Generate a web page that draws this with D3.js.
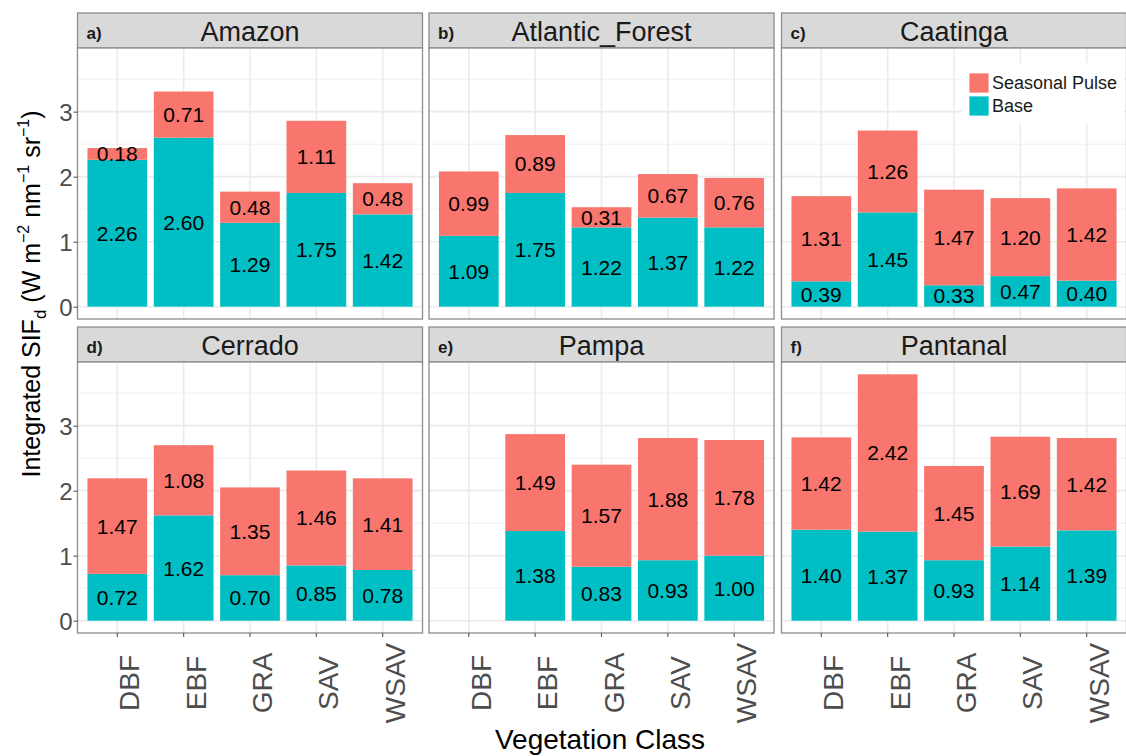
<!DOCTYPE html>
<html>
<head>
<meta charset="utf-8">
<script src="https://cdn.jsdelivr.net/npm/d3@7"></script>
<style>
  html, body { margin: 0; padding: 0; background: #fff; }
  svg text { font-family: "Liberation Sans", Arial, Helvetica, sans-serif; }
</style>
</head>
<body>
<svg id="chart" width="1126" height="756"></svg>
<script>
// Biomes (facets), in panel order
const biomes = ["Amazon", "Atlantic_Forest", "Caatinga", "Cerrado", "Pampa", "Pantanal"];
const panelTags = ["a)", "b)", "c)", "d)", "e)", "f)"];
// Vegetation classes on the x axis
const classes = ["DBF", "EBF", "GRA", "SAV", "WSAV"];
// Base integrated SIF per biome (rows) and class (columns); null = class absent
const baseValues = [
  [2.26, 2.60, 1.29, 1.75, 1.42],
  [1.09, 1.75, 1.22, 1.37, 1.22],
  [0.39, 1.45, 0.33, 0.47, 0.40],
  [0.72, 1.62, 0.70, 0.85, 0.78],
  [null, 1.38, 0.83, 0.93, 1.00],
  [1.40, 1.37, 0.93, 1.14, 1.39]
];
// Seasonal pulse stacked on top of the base
const pulseValues = [
  [0.18, 0.71, 0.48, 1.11, 0.48],
  [0.99, 0.89, 0.31, 0.67, 0.76],
  [1.31, 1.26, 1.47, 1.20, 1.42],
  [1.47, 1.08, 1.35, 1.46, 1.41],
  [null, 1.49, 1.57, 1.88, 1.78],
  [1.42, 2.42, 1.45, 1.69, 1.42]
];
const yTicks = [0, 1, 2, 3];
const yMinorTicks = [0.5, 1.5, 2.5, 3.5];
const seriesNames = ["Seasonal Pulse", "Base"];
const seriesColors = { "Seasonal Pulse": "#F8766D", "Base": "#00BFC4" };

const svg = d3.select("#chart");

// facet grid geometry
const colX = [77.5, 429, 781.5];
const panelW = 345;
const stripTop = [13, 327];
const stripH = 35;
const panelH = 271;

// shared y scale with 5% expansion either side of the data range
const totals = baseValues.flatMap((row, i) => row.map((b, j) => b == null ? 0 : b + pulseValues[i][j]));
const yMax = d3.max(totals);
const pad = yMax * 0.05;
const y = d3.scaleLinear().domain([-pad, yMax + pad]).range([panelH, 0]);
const x = d3.scaleBand().domain(classes).range([0, panelW]).paddingInner(0.1).paddingOuter(0.15);

const gridColor = "#ebebeb";
const borderColor = "#8c8c8c";
const tickTextColor = "#4d4d4d";

biomes.forEach((biome, i) => {
  const col = i % 3, row = Math.floor(i / 3);
  const left = colX[col];
  const sTop = stripTop[row];
  const pTop = sTop + stripH;

  // strip
  const strip = svg.append("g").attr("transform", `translate(${left},${sTop})`);
  strip.append("rect").attr("x", 0).attr("y", 0).attr("width", panelW).attr("height", stripH)
    .attr("fill", "#d9d9d9").attr("stroke", borderColor).attr("stroke-width", 1.3);
  strip.append("text").attr("x", panelW / 2).attr("y", stripH / 2 + 1)
    .attr("text-anchor", "middle").attr("dominant-baseline", "central")
    .attr("font-size", 27).attr("fill", "#1a1a1a").text(biome);
  strip.append("text").attr("x", 9).attr("y", stripH / 2 + 2.5)
    .attr("dominant-baseline", "central").attr("font-size", 17).attr("font-weight", "bold")
    .attr("fill", "#1a1a1a").text(panelTags[i]);

  // panel
  const g = svg.append("g").attr("transform", `translate(${left},${pTop})`);
  g.append("rect").attr("width", panelW).attr("height", panelH).attr("fill", "#fff");

  // grid
  g.selectAll("line.minor").data(yMinorTicks).join("line")
    .attr("x1", 0).attr("x2", panelW).attr("y1", d => y(d)).attr("y2", d => y(d))
    .attr("stroke", gridColor).attr("stroke-width", 0.8);
  g.selectAll("line.majorY").data(yTicks).join("line")
    .attr("x1", 0).attr("x2", panelW).attr("y1", d => y(d)).attr("y2", d => y(d))
    .attr("stroke", gridColor).attr("stroke-width", 1.6);
  g.selectAll("line.majorX").data(classes).join("line")
    .attr("x1", d => x(d) + x.bandwidth() / 2).attr("x2", d => x(d) + x.bandwidth() / 2)
    .attr("y1", 0).attr("y2", panelH)
    .attr("stroke", gridColor).attr("stroke-width", 1.6);

  // legend background sits inside the Caatinga panel, over the grid
  if (i === 2) {
    g.append("rect").attr("x", 962 - left).attr("y", 63 - pTop).attr("width", 162).attr("height", 60)
      .attr("fill", "#fff");
  }

  // stacked bars
  const bars = classes.map((c, j) => ({ cls: c, base: baseValues[i][j], pulse: pulseValues[i][j] }))
    .filter(d => d.base != null);

  bars.forEach(d => {
    const bx = x(d.cls), bw = x.bandwidth();
    const segs = [
      { name: "Base", y0: 0, y1: d.base, v: d.base },
      { name: "Seasonal Pulse", y0: d.base, y1: d.base + d.pulse, v: d.pulse }
    ];
    segs.forEach(s => {
      g.append("rect").attr("x", bx).attr("width", bw)
        .attr("y", y(s.y1)).attr("height", y(s.y0) - y(s.y1))
        .attr("fill", seriesColors[s.name]);
    });
    segs.forEach(s => {
      g.append("text").attr("x", bx + bw / 2).attr("y", y((s.y0 + s.y1) / 2))
        .attr("text-anchor", "middle").attr("dominant-baseline", "central")
        .attr("font-size", 21).attr("fill", "#000").text(s.v.toFixed(2));
    });
  });

  // border
  g.append("rect").attr("width", panelW).attr("height", panelH)
    .attr("fill", "none").attr("stroke", borderColor).attr("stroke-width", 1.3);

  // y axis on the left column
  if (col === 0) {
    const ya = g.append("g").call(d3.axisLeft(y).tickValues(yTicks).tickSize(4).tickFormat(d3.format("d")));
    ya.select(".domain").remove();
    ya.selectAll(".tick line").attr("stroke", "#555").attr("stroke-width", 1.1);
    ya.selectAll(".tick text").attr("font-size", 24).attr("fill", tickTextColor)
      .attr("x", -5).attr("dy", "0.35em")
      .style("font-family", "'Liberation Sans', Arial, sans-serif");
  }

  // x axis on the bottom row
  if (row === 1) {
    const xa = g.append("g").attr("transform", `translate(0,${panelH})`)
      .call(d3.axisBottom(x).tickSize(4));
    xa.select(".domain").remove();
    xa.selectAll(".tick line").attr("stroke", "#555").attr("stroke-width", 1.1);
    xa.selectAll(".tick text")
      .attr("font-size", 28).attr("fill", tickTextColor)
      .attr("x", 0).attr("y", 0).attr("dy", null)
      .attr("text-anchor", "middle")
      .attr("transform", "translate(22,50) rotate(-90)")
      .style("font-family", "'Liberation Sans', Arial, sans-serif");
  }
});

// legend
const legend = svg.append("g").attr("transform", "translate(969,73)");
seriesNames.forEach((name, k) => {
  const ly = k * 23;
  legend.append("rect").attr("x", 0).attr("y", ly).attr("width", 20).attr("height", 20)
    .attr("fill", seriesColors[name]).attr("stroke", "#fff").attr("stroke-width", 0.8);
  legend.append("text").attr("x", 23).attr("y", ly + 10).attr("dominant-baseline", "central")
    .attr("font-size", 18).attr("fill", "#1a1a1a").text(name);
});

// axis titles
svg.append("text").attr("x", 600).attr("y", 749).attr("text-anchor", "middle")
  .attr("font-size", 28).attr("fill", "#000").text("Vegetation Class");

const yTitle = svg.append("text").attr("transform", "translate(40,294) rotate(-90)")
  .attr("text-anchor", "middle").attr("font-size", 25).attr("fill", "#000");
yTitle.append("tspan").text("Integrated SIF");
yTitle.append("tspan").attr("font-size", 17).attr("dy", 6).text("d");
yTitle.append("tspan").attr("dy", -6).text(" (W m");
yTitle.append("tspan").attr("font-size", 16).attr("dy", -11).text("\u22122");
yTitle.append("tspan").attr("dy", 11).text(" nm");
yTitle.append("tspan").attr("font-size", 16).attr("dy", -11).text("\u22121");
yTitle.append("tspan").attr("dy", 11).text(" sr");
yTitle.append("tspan").attr("font-size", 16).attr("dy", -11).text("\u22121");
yTitle.append("tspan").attr("dy", 11).text(")");
</script>
</body>
</html>
